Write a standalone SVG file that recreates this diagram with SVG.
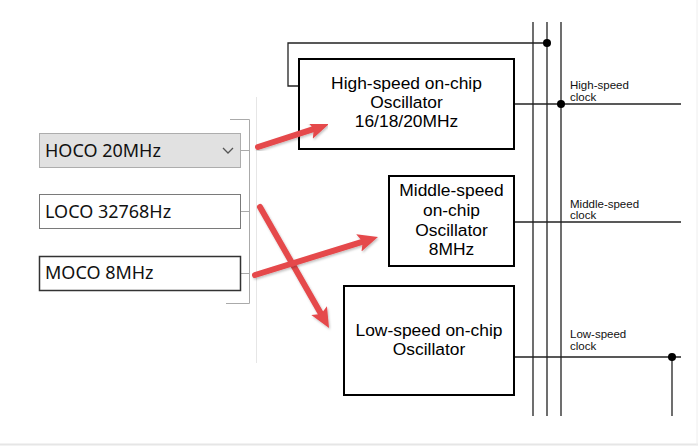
<svg xmlns="http://www.w3.org/2000/svg" width="698" height="446" viewBox="0 0 698 446">
<defs>
<style>
.box{fill:#fff;stroke:#000;stroke-width:2}
.w{stroke:#222;stroke-width:1.3;fill:none}
.t{font-family:"Liberation Sans",Arial,sans-serif;font-size:17.4px;fill:#000;text-anchor:middle}
.s{font-family:"Liberation Sans",Arial,sans-serif;font-size:11.5px;fill:#111}
.ui{font-family:"Noto Sans","Open Sans",sans-serif;font-size:18px;fill:#111}
.g{stroke:#aaa;stroke-width:1;fill:none}
.red{stroke:#e5484b;stroke-width:6;stroke-linecap:round;fill:none;marker-end:url(#ah);filter:url(#sh)}
</style>
<marker id="ah" markerUnits="userSpaceOnUse" markerWidth="22" markerHeight="20" refX="6" refY="9" orient="auto">
<path d="M0,0 L20,9 L0,18 L4,9 z" fill="#e5484b"/>
</marker>
<filter id="sh" x="-20%" y="-20%" width="140%" height="140%">
<feDropShadow dx="1" dy="1.5" stdDeviation="1.2" flood-color="#000" flood-opacity="0.25"/>
</filter>
</defs>
<rect width="698" height="446" fill="#fff"/>
<line x1="0" y1="444.5" x2="698" y2="444.5" stroke="#e6e6e6" stroke-width="2"/>
<line x1="697" y1="0" x2="697" y2="446" stroke="#eeeeee" stroke-width="1"/>

<g id="panel">
<line x1="256.5" y1="97" x2="256.5" y2="363" stroke="#e6e6e6"/>
<path class="g" d="M230,119.5 H249.5 V303.5 H226"/>
<path class="g" d="M240,150.5 H249.5 M240,211.5 H249.5 M240,273.5 H249.5"/>
</g>

<g id="hoco">
<rect x="39.5" y="133.5" width="201" height="34" fill="#e1e1e1" stroke="#adadad"/>
<text class="ui" x="45" y="157">HOCO 20MHz</text>
<path d="M223,148 L228,153 L233,148" fill="none" stroke="#555" stroke-width="1.3"/>
</g>
<g id="loco">
<rect x="39.5" y="194.5" width="201" height="34" fill="#fff" stroke="#7a7a7a"/>
<text class="ui" x="45" y="218">LOCO 32768Hz</text>
</g>
<g id="moco">
<rect x="39.5" y="256.5" width="201" height="34" fill="#fff" stroke="#333" stroke-width="1.5"/>
<text class="ui" x="45" y="279">MOCO 8MHz</text>
</g>

<g id="connectors">
<path class="w" d="M533,22 V416 M547,22 V416 M561,22 V416"/>
<path class="w" d="M547,43 H288 V86 H299"/>
<path class="w" d="M514,104 H681"/>
<path class="w" d="M514,222 H681"/>
<path class="w" d="M514,357 H681 M672,357 V416"/>
<circle cx="547" cy="43" r="4" fill="#000"/>
<circle cx="561" cy="104" r="4" fill="#000"/>
<circle cx="672" cy="357" r="4" fill="#000"/>
<text class="s" x="570" y="89">High-speed</text>
<text class="s" x="570" y="100.5">clock</text>
<text class="s" x="570" y="207.5">Middle-speed</text>
<text class="s" x="570" y="219">clock</text>
<text class="s" x="570" y="337.5">Low-speed</text>
<text class="s" x="570" y="349.5">clock</text>
</g>

<g id="hso">
<rect class="box" x="299" y="59" width="215" height="90"/>
<text class="t" x="406.5" y="89">High-speed on-chip</text>
<text class="t" x="406.5" y="108">Oscillator</text>
<text class="t" x="406.5" y="127">16/18/20MHz</text>
</g>
<g id="mso">
<rect class="box" x="389" y="176" width="125" height="90"/>
<text class="t" x="451.5" y="196">Middle-speed</text>
<text class="t" x="451.5" y="216">on-chip</text>
<text class="t" x="451.5" y="236">Oscillator</text>
<text class="t" x="451.5" y="255">8MHz</text>
</g>
<g id="lso">
<rect class="box" x="344" y="286" width="170" height="109"/>
<text class="t" x="429" y="336">Low-speed on-chip</text>
<text class="t" x="429" y="355">Oscillator</text>
</g>

<g id="arrows">
<line class="red" x1="258" y1="147" x2="315.7" y2="128.3"/>
<line class="red" x1="260" y1="207" x2="322.1" y2="315.8"/>
<line class="red" x1="255" y1="275" x2="364.6" y2="241.1"/>
</g>
</svg>
